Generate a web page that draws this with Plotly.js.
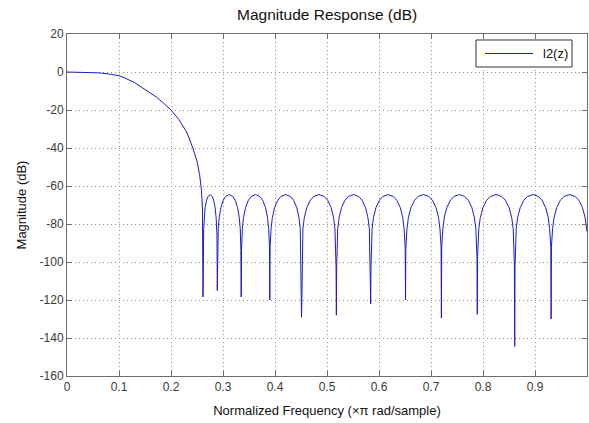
<!DOCTYPE html>
<html>
<head>
<meta charset="utf-8">
<script src="https://cdn.plot.ly/plotly-3.0.1.min.js"></script>
<style>
  html, body { margin: 0; padding: 0; background: #ffffff; }
  #plot { width: 589px; height: 423px; }
</style>
</head>
<body>
<div id="plot"></div>
<script>
// Magnitude response of l2(z): passband roll-off, then equiripple stopband lobes with deep nulls.

// Passband and transition band (normalized frequency, dB)
const passbandFreq = [0, 0.02, 0.04, 0.06, 0.08, 0.09, 0.1, 0.11, 0.121, 0.13, 0.146, 0.16, 0.172,
  0.185, 0.2, 0.215, 0.23, 0.242, 0.25, 0.255, 0.2585, 0.2605];
const passbandMag = [0, -0.05, -0.2, -0.45, -1.0, -1.45, -2.0, -3.0, -4.3, -5.6, -8.5, -10.9, -13.2,
  -16.2, -20, -25, -31.5, -40, -47, -54, -62, -72];

// Stopband: lobes between nulls (normalized frequency, dB)
const stopbandFreq = [
  0.2609, 0.2615, 0.2621,
  0.2628, 0.2638, 0.2656, 0.2684, 0.2711, 0.2753, 0.2794, 0.2821, 0.2849, 0.2868, 0.2878,
  0.2884, 0.289, 0.2896,
  0.2908, 0.2927, 0.2959, 0.3005, 0.3051, 0.312, 0.3189, 0.3235, 0.3281, 0.3313, 0.3332,
  0.3344, 0.335, 0.3356,
  0.3372, 0.3394, 0.3433, 0.3488, 0.3543, 0.3625, 0.3708, 0.3763, 0.3818, 0.3856, 0.3878,
  0.3894, 0.39, 0.3906,
  0.3924, 0.3949, 0.3992, 0.4053, 0.4114, 0.4205, 0.4297, 0.4358, 0.4419, 0.4461, 0.4486,
  0.4504, 0.451, 0.4516,
  0.4537, 0.4564, 0.4611, 0.4678, 0.4745, 0.4845, 0.4946, 0.5013, 0.508, 0.5126, 0.5153,
  0.5174, 0.518, 0.5186,
  0.5206, 0.5233, 0.5279, 0.5345, 0.5411, 0.551, 0.5609, 0.5675, 0.5741, 0.5787, 0.5814,
  0.5834, 0.584, 0.5846,
  0.5867, 0.5894, 0.5941, 0.6008, 0.6075, 0.6175, 0.6276, 0.6343, 0.641, 0.6456, 0.6483,
  0.6504, 0.651, 0.6516,
  0.6538, 0.6565, 0.6614, 0.6683, 0.6752, 0.6855, 0.6959, 0.7028, 0.7097, 0.7145, 0.7172,
  0.7194, 0.72, 0.7206,
  0.7228, 0.7255, 0.7304, 0.7373, 0.7442, 0.7545, 0.7649, 0.7718, 0.7787, 0.7835, 0.7862,
  0.7884, 0.789, 0.7896,
  0.7919, 0.7948, 0.7998, 0.807, 0.8142, 0.825, 0.8358, 0.843, 0.8502, 0.8552, 0.8581,
  0.8604, 0.861, 0.8616,
  0.8638, 0.8666, 0.8715, 0.8785, 0.8855, 0.896, 0.9065, 0.9135, 0.9205, 0.9254, 0.9282,
  0.9304, 0.931, 0.9316,
  0.9338, 0.9367, 0.9417, 0.9488, 0.9559, 0.9665, 0.9772, 0.9843, 0.9914, 0.9963, 1.0
];
const stopbandMag = [
  -107, -118.4, -107,
  -82.5, -76.6, -71.4, -67.5, -65.5, -64.5, -65.5, -67.5, -71.4, -76.6, -82.5,
  -86, -115, -86,
  -82.5, -76.6, -71.4, -67.5, -65.5, -64.5, -65.5, -67.5, -71.4, -76.6, -82.5,
  -94, -118.4, -94,
  -82.5, -76.6, -71.4, -67.5, -65.5, -64.5, -65.5, -67.5, -71.4, -76.6, -82.5,
  -92, -120, -92,
  -82.5, -76.6, -71.4, -67.5, -65.5, -64.5, -65.5, -67.5, -71.4, -76.6, -82.5,
  -120, -129, -120,
  -82.5, -76.6, -71.4, -67.5, -65.5, -64.5, -65.5, -67.5, -71.4, -76.6, -82.5,
  -102.6, -128, -102.6,
  -82.5, -76.6, -71.4, -67.5, -65.5, -64.5, -65.5, -67.5, -71.4, -76.6, -82.5,
  -103, -122, -103,
  -82.5, -76.6, -71.4, -67.5, -65.5, -64.5, -65.5, -67.5, -71.4, -76.6, -82.5,
  -93, -120, -93,
  -82.5, -76.6, -71.4, -67.5, -65.5, -64.5, -65.5, -67.5, -71.4, -76.6, -82.5,
  -92, -129.5, -92,
  -82.5, -76.6, -71.4, -67.5, -65.5, -64.5, -65.5, -67.5, -71.4, -76.6, -82.5,
  -97, -127.5, -97,
  -82.5, -76.6, -71.4, -67.5, -65.5, -64.5, -65.5, -67.5, -71.4, -76.6, -82.5,
  -102.6, -144.4, -102.6,
  -82.5, -76.6, -71.4, -67.5, -65.5, -64.5, -65.5, -67.5, -71.4, -76.6, -82.5,
  -92, -130, -92,
  -82.5, -76.6, -71.4, -67.5, -65.5, -64.5, -65.5, -67.5, -71.4, -76.6, -84
];

// Axis ticks
const xTicks = [0, 0.1, 0.2, 0.3, 0.4, 0.5, 0.6, 0.7, 0.8, 0.9];
const xTickLabels = ['0', '0.1', '0.2', '0.3', '0.4', '0.5', '0.6', '0.7', '0.8', '0.9'];
const yTicks = [-160, -140, -120, -100, -80, -60, -40, -20, 0, 20];
const yTickLabels = ['-160', '-140', '-120', '-100', '-80', '-60', '-40', '-20', '0', '20'];

const seriesName = 'l2(z)';

const freq = passbandFreq.concat(stopbandFreq);
const mag = passbandMag.concat(stopbandMag);

const FONT = 'Liberation Sans, Arial, Helvetica, sans-serif';
const AXIS_GRAY = '#6e6e6e';
const LINE_BLUE = '#1c1cc8';

const trace = {
  x: freq,
  y: mag,
  type: 'scatter',
  mode: 'lines',
  name: seriesName,
  line: { color: LINE_BLUE, width: 1 },
  hoverinfo: 'skip',
  showlegend: false
};

const axisCommon = {
  showline: true,
  linecolor: AXIS_GRAY,
  linewidth: 1,
  mirror: 'ticks',
  ticks: 'inside',
  ticklen: 5,
  tickwidth: 1,
  tickcolor: AXIS_GRAY,
  showgrid: true,
  gridcolor: '#8c8c8c',
  griddash: '1px,3px',
  gridwidth: 1,
  zeroline: false,
  tickfont: { family: FONT, size: 12, color: '#3a3a3a' },
  fixedrange: true
};

// Boxed legend in the upper right corner of the axes (paper coordinates)
const legendBox = { x0: 0.7865, x1: 0.9712, y0: 0.9035, y1: 0.9825 };
const legendRowY = (legendBox.y0 + legendBox.y1) / 2;

const layout = {
  width: 589,
  height: 423,
  margin: { l: 67, r: 2, t: 34, b: 47 },
  paper_bgcolor: '#ffffff',
  plot_bgcolor: '#ffffff',
  font: { family: FONT, color: '#111111' },
  showlegend: false,
  title: {
    text: 'Magnitude Response (dB)',
    font: { family: FONT, size: 15.5, color: '#111111' },
    x: 0.5554,
    xanchor: 'center',
    y: 0.965,
    yref: 'container',
    yanchor: 'middle'
  },
  xaxis: Object.assign({}, axisCommon, {
    range: [0, 1],
    tickvals: xTicks,
    ticktext: xTickLabels,
    title: { text: 'Normalized Frequency (\u00d7\u03c0 rad/sample)', font: { family: FONT, size: 13, color: '#111111' }, standoff: 12 }
  }),
  yaxis: Object.assign({}, axisCommon, {
    range: [-160, 20],
    tickvals: yTicks,
    ticktext: yTickLabels,
    title: { text: 'Magnitude (dB)', font: { family: FONT, size: 13, color: '#111111' }, standoff: 10 }
  }),
  shapes: [
    {
      type: 'rect', xref: 'paper', yref: 'paper',
      x0: legendBox.x0, x1: legendBox.x1, y0: legendBox.y0, y1: legendBox.y1,
      line: { color: '#333333', width: 1 }, fillcolor: '#ffffff', layer: 'above'
    },
    {
      type: 'line', xref: 'paper', yref: 'paper',
      x0: 0.8038, x1: 0.8962, y0: legendRowY, y1: legendRowY,
      line: { color: LINE_BLUE, width: 1 }, layer: 'above'
    }
  ],
  annotations: [
    {
      text: seriesName, xref: 'paper', yref: 'paper',
      x: 0.9115, y: legendRowY, xanchor: 'left', yanchor: 'middle',
      showarrow: false, font: { family: FONT, size: 13, color: '#111111' }
    }
  ]
};

Plotly.newPlot('plot', [trace], layout, { staticPlot: true, displayModeBar: false });
</script>
</body>
</html>
